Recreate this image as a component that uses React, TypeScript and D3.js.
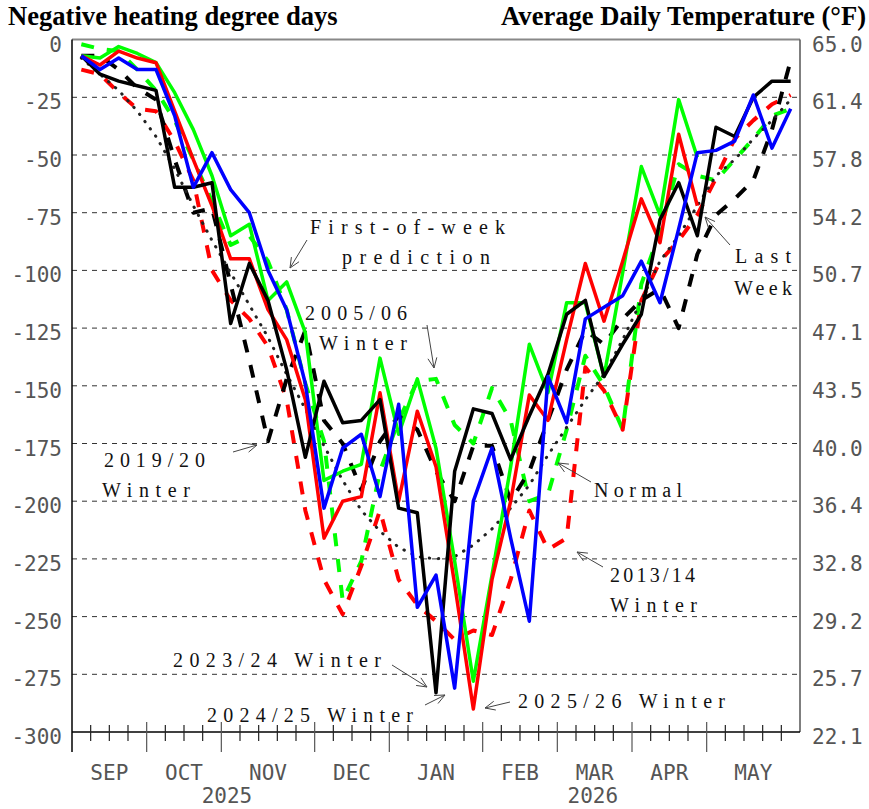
import * as d3 from 'd3'

const W = 869
const H = 809

// weekly negative heating degree days, one value per week from the start of September
const weeks = d3.range(39)
const hddTicks = [0, -25, -50, -75, -100, -125, -150, -175, -200, -225, -250, -275, -300]
const tempLabels = ['65.0', '61.4', '57.8', '54.2', '50.7', '47.1', '43.5', '40.0', '36.4', '32.8', '29.2', '25.7', '22.1']
const months = ['SEP', 'OCT', 'NOV', 'DEC', 'JAN', 'FEB', 'MAR', 'APR', 'MAY']
const monthBounds = [0, 4, 8, 13, 17, 22, 26, 30, 34, 39]
const years = [{ label: '2025', at: 8.3 }, { label: '2026', at: 27.9 }]

const winter0506 = [-2, -4, -5, -13, -22, -35, -52, -70, -89, -85, -96, -117, -149, -174, -243, -226, -187, -165, -148, -147, -167, -175, -151, -165, -200, -197, -169, -137, -150, -169, -106, -83, -54, -59, -61, -52, -43, -33, -30]
const winter1314 = [-13, -15, -23, -30, -31, -44, -61, -100, -113, -121, -133, -156, -204, -234, -249, -228, -204, -234, -245, -252, -260, -256, -258, -234, -204, -221, -216, -142, -152, -169, -113, -96, -87, -76, -60, -43, -35, -28, -24]
const winter1920 = [-7, -7, -13, -21, -26, -52, -75, -73, -106, -139, -174, -147, -126, -165, -175, -195, -174, -163, -169, -187, -200, -176, -176, -200, -187, -165, -143, -126, -132, -121, -113, -108, -125, -93, -76, -69, -61, -39, -9]
const normal = [-8, -15, -22, -31, -42, -56, -72, -87, -101, -115, -129, -145, -160, -176, -191, -204, -213, -220, -224, -225, -224, -219, -212, -203, -193, -180, -168, -156, -145, -130, -113, -96, -85, -72, -59, -52, -43, -35, -26]
const winter2324 = [-7, -15, -18, -20, -22, -64, -64, -62, -123, -97, -113, -143, -181, -148, -166, -165, -156, -203, -205, -283, -187, -160, -162, -182, -163, -145, -119, -113, -146, -132, -119, -78, -62, -85, -38, -42, -25, -18, -18]
const winter2425 = [-7, -13, -8, -13, -13, -33, -64, -49, -65, -75, -100, -117, -149, -203, -177, -171, -198, -158, -246, -232, -281, -200, -177, -216, -252, -146, -166, -121, -116, -111, -96, -114, -82, -49, -48, -44, -24, -47, -30]
const prediction = [-7, -8, -3, -6, -10, -23, -39, -59, -85, -80, -113, -105, -127, -191, -187, -184, -138, -171, -147, -177, -226, -278, -232, -185, -132, -153, -114, -114, -146, -101, -55, -76, -26, -51]
const winter2526 = [-7, -11, -5, -8, -10, -31, -52, -72, -95, -95, -117, -130, -156, -216, -200, -198, -153, -200, -161, -185, -236, -290, -234, -200, -154, -165, -130, -97, -122, -96, -69, -88, -41, -72]

const series = [
  { name: '2005/06', values: winter0506, color: '#00ff00', width: 4, dash: '13 13' },
  { name: '2013/14', values: winter1314, color: '#ff0000', width: 4, dash: '13 13' },
  { name: '2019/20', values: winter1920, color: '#000000', width: 4, dash: '13 13' },
  { name: 'Normal', values: normal, color: '#222222', width: 3, dash: '0.5 8.5' },
  { name: 'prediction', values: prediction, color: '#00ff00', width: 3.5, dash: null },
  { name: '2025/26', values: winter2526, color: '#ff0000', width: 3.5, dash: null },
  { name: '2023/24', values: winter2324, color: '#000000', width: 3.5, dash: null },
  { name: '2024/25', values: winter2425, color: '#0000ff', width: 3.5, dash: null },
]

const notes = [
  { text: 'First-of-week', x: 310, y: 234, w: 195 },
  { text: 'prediction', x: 342, y: 264, w: 148 },
  { text: '2005/06', x: 305, y: 320, w: 102 },
  { text: 'Winter', x: 319, y: 350, w: 88 },
  { text: '2019/20', x: 104, y: 467, w: 101 },
  { text: 'Winter', x: 102, y: 497, w: 88 },
  { text: 'Normal', x: 594, y: 497, w: 88 },
  { text: '2013/14', x: 610, y: 582, w: 85 },
  { text: 'Winter', x: 610, y: 612, w: 87 },
  { text: 'Last', x: 735, y: 263, w: 56 },
  { text: 'Week', x: 734, y: 295, w: 58 },
  { text: '2023/24 Winter', x: 173, y: 667, w: 208 },
  { text: '2024/25 Winter', x: 207, y: 722, w: 206 },
  { text: '2025/26 Winter', x: 518, y: 708, w: 207 },
]

const arrows = [
  [307, 240, 290, 268],
  [427, 325, 434, 368],
  [233, 452, 257, 445],
  [591, 482, 558, 463],
  [603, 567, 577, 552],
  [730, 245, 705, 217],
  [392, 665, 427, 687],
  [425, 705, 445, 695],
  [510, 702, 485, 708],
]

function Arrow({ a }: { a: number[] }) {
  const [x1, y1, x2, y2] = a
  const ang = Math.atan2(y2 - y1, x2 - x1)
  const len = 11
  const spread = 0.42
  const h1 = [x2 - len * Math.cos(ang - spread), y2 - len * Math.sin(ang - spread)]
  const h2 = [x2 - len * Math.cos(ang + spread), y2 - len * Math.sin(ang + spread)]
  return (
    <g stroke="#444" strokeWidth={1} fill="none">
      <line x1={x1} y1={y1} x2={x2} y2={y2} />
      <polyline points={`${h1[0]},${h1[1]} ${x2},${y2} ${h2[0]},${h2[1]}`} />
    </g>
  )
}

export default function App() {
  const left = 72, right = 800, top = 39.6, bottom = 732
  const x = d3.scaleLinear().domain([0, 39]).range([left, right])
  const y = d3.scaleLinear().domain([0, -300]).range([top, bottom])
  const line = d3.line<number>().x((_, i) => x(i + 0.5)).y(d => y(d))

  const tickFont = "'DejaVu Sans Mono', monospace"
  const noteFont = "'Liberation Serif', 'Times New Roman', serif"

  return (
    <div style={{ position: 'absolute', left: 0, top: 0, width: W, height: H, background: '#fff' }}>
      <svg width={W} height={H} style={{ display: 'block' }}>
        <rect width={W} height={H} fill="#fff" />

        <text x={8} y={25} fontFamily={noteFont} fontWeight="bold" fontSize={26.6} fill="#000">
          Negative heating degree days
        </text>
        <text x={866} y={25} textAnchor="end" fontFamily={noteFont} fontWeight="bold" fontSize={26.6} fill="#000">
          Average Daily Temperature (°F)
        </text>

        {/* grid */}
        {hddTicks.slice(1, -1).map(t => (
          <line key={t} x1={left} x2={right} y1={y(t)} y2={y(t)} stroke="#333" strokeWidth={1} strokeDasharray="5 5" />
        ))}

        {/* frame */}
        <line x1={left} x2={right} y1={top} y2={top} stroke="#888" strokeWidth={2} />
        <line x1={right} x2={right} y1={top} y2={bottom} stroke="#555" strokeWidth={1.5} />
        <line x1={left} x2={left} y1={top} y2={752} stroke="#000" strokeWidth={1.5} />
        <line x1={left} x2={right} y1={bottom} y2={bottom} stroke="#000" strokeWidth={1.5} />

        {/* week ticks */}
        {weeks.slice(1).map(k => {
          const major = monthBounds.includes(k)
          return (
            <line key={k} x1={x(k)} x2={x(k)} y1={major ? 722 : 725} y2={major ? 752 : 741}
              stroke={major ? '#555' : '#222'} strokeWidth={1.2} />
          )
        })}

        {/* left labels */}
        {hddTicks.map(t => (
          <text key={t} x={62} y={y(t) + 12} textAnchor="end" fontFamily={tickFont} fontSize={21} fill="#555">{t}</text>
        ))}
        {/* right labels */}
        {tempLabels.map((l, i) => (
          <text key={l} x={812} y={y(hddTicks[i]) + 12} fontFamily={tickFont} fontSize={21} fill="#555">{l}</text>
        ))}
        {/* months */}
        {months.map((m, i) => (
          <text key={m} x={x((monthBounds[i] + monthBounds[i + 1]) / 2)} y={780} textAnchor="middle"
            fontFamily={tickFont} fontSize={21} fill="#555">{m}</text>
        ))}
        {years.map(yr => (
          <text key={yr.label} x={x(yr.at)} y={803} textAnchor="middle" fontFamily={tickFont} fontSize={21} fill="#555">{yr.label}</text>
        ))}

        {/* series */}
        {series.map(s => (
          <path key={s.name} d={line(s.values) || ''} fill="none" stroke={s.color} strokeWidth={s.width}
            strokeDasharray={s.dash || undefined} strokeLinejoin="round"
            strokeLinecap={s.name === 'Normal' ? 'round' : 'butt'} />
        ))}

        {/* annotations */}
        {notes.map((n, i) => (
          <text key={i} x={n.x} y={n.y} fontFamily={noteFont} fontSize={20} fill="#111"
            textLength={n.w} lengthAdjust="spacing">{n.text}</text>
        ))}
        {arrows.map((a, i) => <Arrow key={i} a={a} />)}
      </svg>
    </div>
  )
}
